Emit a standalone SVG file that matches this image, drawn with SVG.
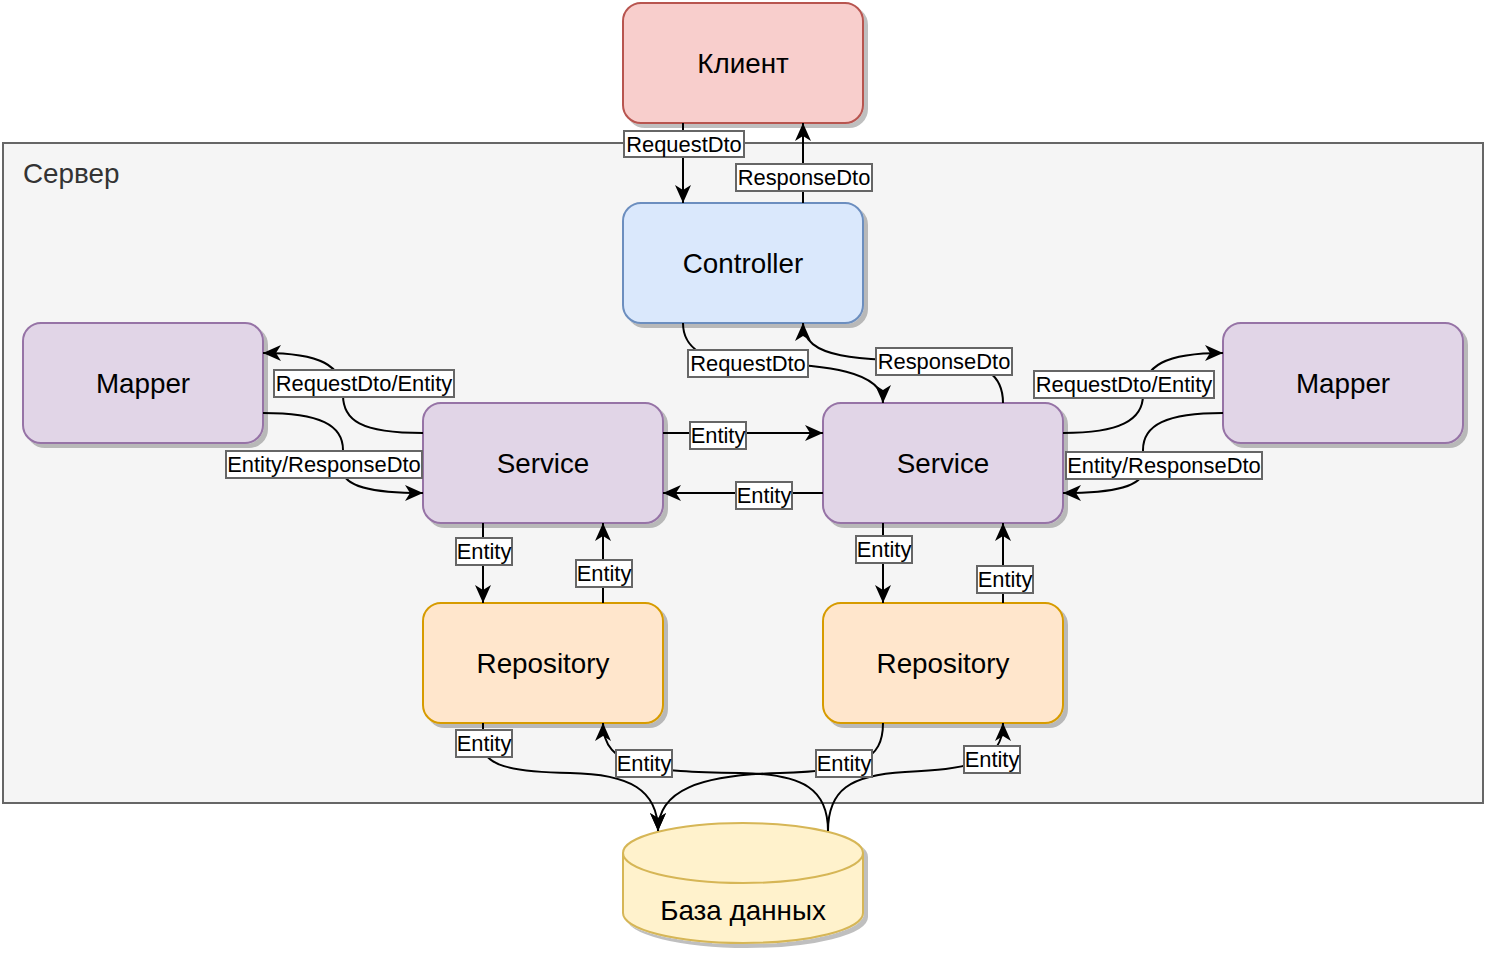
<svg xmlns="http://www.w3.org/2000/svg" width="1486" height="953" viewBox="0 0 1486 953">
<style>
.node{stroke-width:2;filter:url(#sh)}
.t{font-family:"Liberation Sans",Arial,sans-serif;font-size:27.8px;fill:#000;text-anchor:middle}
.lb rect{fill:#fff;stroke:#666;stroke-width:2}
.lb text{font-family:"Liberation Sans",Arial,sans-serif;font-size:21.9px;fill:#000;text-anchor:middle}
.e{fill:none;stroke:#000;stroke-width:2}
.a{marker-end:url(#arr)}
.purple{fill:#e1d5e7;stroke:#9673a6}
.orange{fill:#ffe6cc;stroke:#d79b00}
</style>
<defs>
<filter id="sh" x="-10%" y="-10%" width="130%" height="130%">
<feOffset in="SourceAlpha" dx="4" dy="4" result="o"/>
<feFlood flood-color="#000" flood-opacity="0.25"/>
<feComposite in2="o" operator="in" result="s"/>
<feMerge><feMergeNode in="s"/><feMergeNode in="SourceGraphic"/></feMerge>
</filter>
<marker id="arr" markerUnits="userSpaceOnUse" markerWidth="22" markerHeight="18" refX="18" refY="8" orient="auto" viewBox="0 0 22 18">
<path d="M0,0 L18,8 L0,16 L5,8 Z" fill="#000"/>
</marker>
</defs>
<rect width="1486" height="953" fill="#fff"/>
<g id="server">
<rect x="3" y="143" width="1480" height="660" fill="#f5f5f5" stroke="#666" stroke-width="2"/>
<text x="23" y="183" font-family="Liberation Sans, Arial, sans-serif" font-size="27.8" fill="#333">Сервер</text>
</g>
<g id="client"><rect class="node" x="623" y="3" width="240" height="120" rx="18" fill="#f8cecc" stroke="#b85450"/><text class="t" x="743" y="73">Клиент</text></g>
<g id="controller"><rect class="node" x="623" y="203" width="240" height="120" rx="18" fill="#dae8fc" stroke="#6c8ebf"/><text class="t" x="743" y="273">Controller</text></g>
<g id="mapper-left"><rect class="node purple" x="23" y="323" width="240" height="120" rx="18"/><text class="t" x="143" y="393">Mapper</text></g>
<g id="service-left"><rect class="node purple" x="423" y="403" width="240" height="120" rx="18"/><text class="t" x="543" y="473">Service</text></g>
<g id="service-right"><rect class="node purple" x="823" y="403" width="240" height="120" rx="18"/><text class="t" x="943" y="473">Service</text></g>
<g id="mapper-right"><rect class="node purple" x="1223" y="323" width="240" height="120" rx="18"/><text class="t" x="1343" y="393">Mapper</text></g>
<g id="repository-left"><rect class="node orange" x="423" y="603" width="240" height="120" rx="18"/><text class="t" x="543" y="673">Repository</text></g>
<g id="repository-right"><rect class="node orange" x="823" y="603" width="240" height="120" rx="18"/><text class="t" x="943" y="673">Repository</text></g>
<g id="database">
<path class="node" d="M623,853 A120,30 0 0 1 863,853 L863,913 A120,30 0 0 1 623,913 Z" fill="#fff2cc" stroke="#d6b656"/>
<path d="M623,853 A120,30 0 0 0 863,853" fill="none" stroke="#d6b656" stroke-width="2"/>
<text class="t" x="743" y="919.5">База данных</text>
</g>
<g id="connectors">
<path class="e a" d="M683,123 L683,203"/>
<path class="e a" d="M803,203 L803,123"/>
<path class="e a" d="M683,323 C683,345 700,362 748,363 C830,364 883,372 883,403"/>
<path class="e a" d="M1003,403 C1003,375 985,362 944,361 C860,360 803,360 803,323"/>
<path class="e a" d="M423,433 C360,433 343,420 343,395 C343,365 320,353 263,353"/>
<path class="e a" d="M263,413 C320,413 343,425 343,450 L343,470 C343,486 370,493 423,493"/>
<path class="e a" d="M1063,433 C1120,433 1143,420 1143,395 C1143,365 1166,353 1223,353"/>
<path class="e a" d="M1223,413 C1166,413 1143,425 1143,450 L1143,470 C1143,486 1116,493 1063,493"/>
<path class="e a" d="M663,433 L823,433"/>
<path class="e a" d="M823,493 L663,493"/>
<path class="e a" d="M483,523 L483,603"/>
<path class="e a" d="M603,603 L603,523"/>
<path class="e a" d="M883,523 L883,603"/>
<path class="e a" d="M1003,603 L1003,523"/>
<path class="e a" d="M483,723 L483,745 C483,765 510,772 570,773 C630,774 658,790 658,831"/>
<path class="e a" d="M828,831 C828,790 805,774 740,773 C650,772 603,768 603,723"/>
<path class="e a" d="M883,723 C883,760 860,771 780,773 C700,775 658,790 658,831"/>
<path class="e a" d="M828,831 C828,790 850,775 905,772 C965,769 1003,765 1003,723"/>
<g class="lb">
<rect x="624" y="131" width="120" height="26"/><text x="684" y="151.5">RequestDto</text>
<rect x="736" y="164" width="136" height="27"/><text x="804" y="185">ResponseDto</text>
<rect x="688" y="350" width="120" height="27"/><text x="748" y="371">RequestDto</text>
<rect x="876" y="348" width="136" height="27"/><text x="944" y="369">ResponseDto</text>
<rect x="274" y="370" width="180" height="27"/><text x="364" y="391">RequestDto/Entity</text>
<rect x="226" y="451" width="196" height="27"/><text x="324" y="472">Entity/ResponseDto</text>
<rect x="1034" y="371" width="180" height="27"/><text x="1124" y="392">RequestDto/Entity</text>
<rect x="1066" y="452" width="196" height="27"/><text x="1164" y="473">Entity/ResponseDto</text>
<rect x="690" y="422" width="56" height="27"/><text x="718" y="443">Entity</text>
<rect x="736" y="482" width="56" height="27"/><text x="764" y="503">Entity</text>
<rect x="456" y="538" width="56" height="27"/><text x="484" y="559">Entity</text>
<rect x="576" y="560" width="56" height="27"/><text x="604" y="581">Entity</text>
<rect x="856" y="536" width="56" height="27"/><text x="884" y="557">Entity</text>
<rect x="977" y="566" width="56" height="27"/><text x="1005" y="587">Entity</text>
<rect x="456" y="730" width="56" height="27"/><text x="484" y="751">Entity</text>
<rect x="616" y="750" width="56" height="27"/><text x="644" y="771">Entity</text>
<rect x="816" y="750" width="56" height="27"/><text x="844" y="771">Entity</text>
<rect x="964" y="746" width="56" height="27"/><text x="992" y="767">Entity</text>
</g>
</g>
</svg>
